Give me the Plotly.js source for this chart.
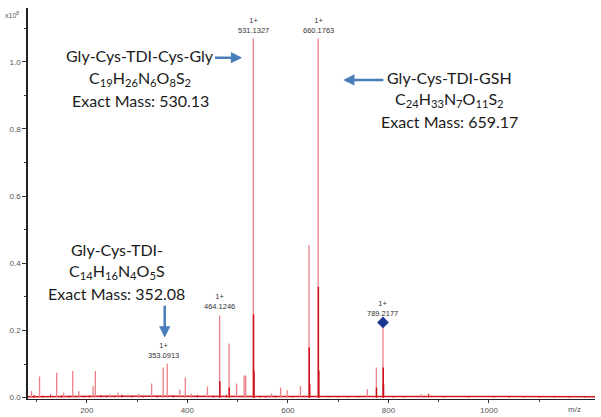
<!DOCTYPE html>
<html>
<head>
<meta charset="utf-8">
<script src="https://cdn.plot.ly/plotly-3.0.1.min.js"></script>
<style>html,body{margin:0;padding:0;background:#fff;}#chart{width:601px;height:417px;}</style>
</head>
<body>
<div id="chart"></div>
<script>
// Centroid sticks (m/z, intensity x10^8)
const stickMz  = [90, 106, 140, 154, 172, 184, 212.5, 217, 246, 262, 282, 303, 329, 352, 360, 385, 396, 408, 440, 464.1246, 483, 498, 513, 516, 531.1327, 567.5, 585.5, 598.6, 625, 642, 660.1763, 758, 776, 789.2177, 865];
const stickInt = [0.02, 0.063, 0.074, 0.015, 0.079, 0.019, 0.034, 0.079, 0.01, 0.015, 0.01, 0.012, 0.042, 0.09, 0.101, 0.024, 0.06, 0.012, 0.033, 0.245, 0.161, 0.042, 0.066, 0.066, 1.069, 0.012, 0.03, 0.022, 0.034, 0.454, 1.069, 0.025, 0.09, 0.224, 0.01];
// Isotope / profile sub-peaks (darker red)
const profMz  = [464.6, 483.5, 531.7, 532.5, 642.5, 643.5, 660.7, 661.5, 776.3, 789.7, 790.3];
const profInt = [0.049, 0.03, 0.248, 0.08, 0.15, 0.04, 0.33, 0.08, 0.03, 0.09, 0.04];
// Baseline noise
const noiseMz  = [95, 112, 128, 150, 165, 195, 205, 228, 240, 255, 270, 290, 312, 340, 372, 420, 452, 478, 545, 555, 575, 610, 680, 700, 720, 740, 810, 830, 880, 910, 960, 1010, 1040, 1070, 1100, 1130, 1160, 1190];
const noiseInt = [0.008, 0.006, 0.01, 0.008, 0.006, 0.005, 0.007, 0.008, 0.006, 0.005, 0.009, 0.006, 0.005, 0.006, 0.007, 0.008, 0.006, 0.009, 0.006, 0.005, 0.006, 0.005, 0.004, 0.005, 0.004, 0.005, 0.004, 0.004, 0.012, 0.004, 0.004, 0.005, 0.004, 0.004, 0.004, 0.005, 0.004, 0.004];
const baseMz  = [83, 150, 250, 350, 450, 550, 650, 750, 850, 950, 1050, 1150, 1211];
const baseInt = [0.003, 0.004, 0.004, 0.004, 0.004, 0.003, 0.003, 0.003, 0.003, 0.003, 0.003, 0.003, 0.003];
// Labeled peaks
const labelMz   = [353.0913, 464.1246, 531.1327, 660.1763, 789.2177];
const labelInt  = [0.101, 0.245, 1.069, 1.069, 0.224];
const labelCharge = ['1+', '1+', '1+', '1+', '1+'];
// Marked (diamond) peak
const markMz = [789.2177];
const markInt = [0.224];
// Compound annotation text lines
const compound1 = ['Gly-Cys-TDI-Cys-Gly', 'C<sub>19</sub>H<sub>26</sub>N<sub>6</sub>O<sub>8</sub>S<sub>2</sub>', 'Exact Mass: 530.13'];
const compound2 = ['Gly-Cys-TDI-GSH', 'C<sub>24</sub>H<sub>33</sub>N<sub>7</sub>O<sub>11</sub>S<sub>2</sub>', 'Exact Mass: 659.17'];
const compound3 = ['Gly-Cys-TDI-', 'C<sub>14</sub>H<sub>16</sub>N<sub>4</sub>O<sub>5</sub>S', 'Exact Mass: 352.08'];

function sticks(xs, ys) {
  const x = [], y = [];
  xs.forEach((m, i) => { x.push(m, m, null); y.push(0, ys[i], null); });
  return {x, y};
}
const s = sticks(stickMz, stickInt);
const p = sticks(profMz, profInt);
const n = sticks(noiseMz, noiseInt);

const traces = [
  {x: baseMz, y: baseInt, mode: 'lines', line: {color: '#d01820', width: 1.5}, hoverinfo: 'skip'},
  {x: n.x, y: n.y, mode: 'lines', line: {color: '#d01820', width: 1}, hoverinfo: 'skip'},
  {x: s.x, y: s.y, mode: 'lines', line: {color: '#ee7f88', width: 1.3}, hoverinfo: 'skip'},
  {x: p.x, y: p.y, mode: 'lines', line: {color: '#cc1018', width: 1.5}, hoverinfo: 'skip'},
  {x: markMz, y: markInt, mode: 'markers', marker: {symbol: 'diamond', size: 9, color: '#1a3592'}, hoverinfo: 'skip'}
];

const annFont = {family: 'Lato, sans-serif', size: 16, color: '#1a1a1a'};
const arrowColor = '#4a7ebb';
const annotations = [];
labelMz.forEach((m, i) => {
  annotations.push({x: m, y: labelInt[i], xref: 'x', yref: 'y', text: labelCharge[i] + '<br>' + m.toFixed(4),
    showarrow: false, yanchor: 'bottom', yshift: 2, font: {family: 'Arial', size: 7.5, color: '#333'}});
});
function block(lines, xc, ys) {
  lines.forEach((t, i) => annotations.push({x: xc, y: ys[i], xref: 'x', yref: 'y', showarrow: false,
    text: t, font: annFont, yanchor: 'middle'}));
}
block(compound1, 306, [1.018, 0.949, 0.884]);
block(compound2, 922, [0.952, 0.887, 0.821]);
block(compound3, 260, [0.442, 0.376, 0.310]);
annotations.push(
  {x: 509, y: 1.012, ax: 452, ay: 1.012, xref: 'x', yref: 'y', axref: 'x', ayref: 'y', text: '', showarrow: true,
   arrowhead: 2, arrowsize: 0.9, arrowwidth: 2.5, arrowcolor: arrowColor, standoff: 0},
  {x: 710, y: 0.946, ax: 793, ay: 0.946, xref: 'x', yref: 'y', axref: 'x', ayref: 'y', text: '', showarrow: true,
   arrowhead: 2, arrowsize: 0.9, arrowwidth: 2.5, arrowcolor: arrowColor, standoff: 0},
  {x: 355, y: 0.179, ax: 355, ay: 0.278, xref: 'x', yref: 'y', axref: 'x', ayref: 'y', text: '', showarrow: true,
   arrowhead: 2, arrowsize: 0.9, arrowwidth: 2.5, arrowcolor: arrowColor, standoff: 0},
  {x: 0, y: 1, xref: 'paper', yref: 'paper', xanchor: 'right', yanchor: 'top', xshift: -7, yshift: -1, showarrow: false,
   text: 'x10<sup>8</sup>', font: {family: 'Arial', size: 7, color: '#555'}},
  {x: 0.979, y: 0, xref: 'paper', yref: 'paper', yanchor: 'top', yshift: -4, showarrow: false,
   text: 'm/z', font: {family: 'Arial', size: 8, color: '#555'}}
);

const layout = {
  width: 601, height: 417,
  margin: {l: 28, r: 6, t: 8, b: 18},
  paper_bgcolor: '#fff', plot_bgcolor: '#fff',
  showlegend: false,
  xaxis: {range: [83, 1211], tickvals: [200, 400, 600, 800, 1000], ticks: 'outside', ticklen: 3, tickcolor: '#333',
    showgrid: false, zeroline: false, showline: true, linecolor: '#222', linewidth: 1,
    tickfont: {family: 'Arial', size: 8, color: '#555'},
    minor: {tickvals: [100, 300, 500, 700, 900, 1100], ticks: 'outside', ticklen: 2, tickcolor: '#333'}},
  yaxis: {range: [-0.004, 1.16], tickvals: [0, 0.2, 0.4, 0.6, 0.8, 1.0], tickformat: '.1f', ticks: 'outside', ticklen: 4, tickcolor: '#333',
    showgrid: false, zeroline: false, showline: true, linecolor: '#222', linewidth: 1.8,
    tickfont: {family: 'Arial', size: 8, color: '#555'},
    minor: {tickvals: [0.1, 0.3, 0.5, 0.7, 0.9, 1.1], ticks: 'outside', ticklen: 2, tickcolor: '#333'}},
  annotations: annotations
};
Plotly.newPlot('chart', traces, layout, {displayModeBar: false, staticPlot: true});
</script>
</body>
</html>
